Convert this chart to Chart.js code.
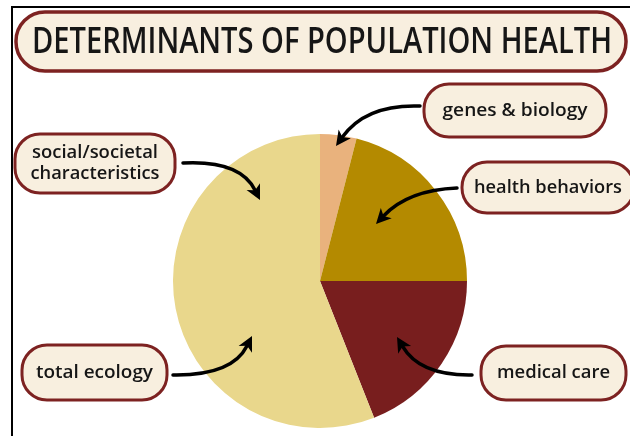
<!DOCTYPE html>
<html>
<head>
<meta charset="utf-8">
<script src="https://cdn.jsdelivr.net/npm/chart.js@4"></script>
<style>
  body { margin: 0; background: #fff; }
  canvas { display: block; }
</style>
</head>
<body>
<canvas id="pie" width="630" height="436"></canvas>
<script>
// pie slices, clockwise from 12 o'clock
const sliceLabels = ['genes & biology', 'health behaviors', 'medical care', 'social/societal characteristics, total ecology'];
const sliceValues = [4, 21, 19, 56];
const chartTitle = 'DETERMINANTS OF POPULATION HEALTH';
const calloutTexts = [['genes & biology'], ['health behaviors'], ['medical care'], ['social/societal', 'characteristics'], ['total ecology']];

const BOX_FILL = '#f8efdf';
const BOX_EDGE = '#7d2221';
const INK = '#161616';

// boxes: x, y, w, h ; text widths used to squeeze the font like the original
const boxes = [
    { x: 424, y: 84, w: 182, h: 53, tw: [145] },
    { x: 462, y: 162, w: 172, h: 51, tw: [148] },
    { x: 481, y: 346, w: 145, h: 54, tw: [113] },
    { x: 15, y: 134, w: 160, h: 59, tw: [126, 129] },
    { x: 22, y: 345, w: 145, h: 55, tw: [117] }
];
// arrows: start, control, tip
const arrows = [
    [420, 106, 366, 104, 336, 146],
    [457, 188, 408, 190, 376, 224],
    [472, 375, 420, 376, 397, 337],
    [183, 163, 240, 160, 260, 200],
    [173, 375, 232, 376, 252, 336]
];

function pill(ctx, x, y, w, h, r, lw) {
    ctx.beginPath();
    ctx.roundRect(x, y, w, h, r);
    ctx.fillStyle = BOX_FILL;
    ctx.fill();
    ctx.lineWidth = lw;
    ctx.strokeStyle = BOX_EDGE;
    ctx.stroke();
}

function squeezedText(ctx, text, cx, cy, font, width) {
    ctx.save();
    ctx.font = font;
    const m = ctx.measureText(text).width;
    ctx.translate(cx, cy);
    ctx.scale(width / m, 1);
    ctx.fillStyle = INK;
    ctx.textAlign = 'center';
    ctx.textBaseline = 'middle';
    ctx.fillText(text, 0, 0);
    ctx.restore();
}

function arrow(ctx, a) {
    const [sx, sy, cx, cy, tx, ty] = a;
    const ang = Math.atan2(ty - cy, tx - cx);
    const len = 15, half = 7.5;
    const bx = tx - Math.cos(ang) * len, by = ty - Math.sin(ang) * len;
    ctx.beginPath();
    ctx.moveTo(sx, sy);
    ctx.quadraticCurveTo(cx, cy, bx + Math.cos(ang) * 4, by + Math.sin(ang) * 4);
    ctx.lineWidth = 3.5;
    ctx.strokeStyle = '#000';
    ctx.lineCap = 'round';
    ctx.stroke();
    ctx.beginPath();
    ctx.moveTo(tx, ty);
    ctx.lineTo(bx + Math.sin(ang) * half, by - Math.cos(ang) * half);
    ctx.lineTo(bx + Math.cos(ang) * 4, by + Math.sin(ang) * 4);
    ctx.lineTo(bx - Math.sin(ang) * half, by + Math.cos(ang) * half);
    ctx.closePath();
    ctx.fillStyle = '#000';
    ctx.fill();
}

const decorations = {
    id: 'decorations',
    beforeDraw(chart) {
        const ctx = chart.ctx;
        ctx.save();
        // frame lines
        ctx.fillStyle = '#000';
        ctx.fillRect(11, 6, 619, 2);
        ctx.fillRect(11, 6, 2, 430);
        // title
        pill(ctx, 16, 12, 610, 59, 29, 3.5);
        squeezedText(ctx, chartTitle, 322, 43, '600 36px "Open Sans"', 580);
        // callout boxes
        boxes.forEach((b, i) => {
            pill(ctx, b.x, b.y, b.w, b.h, 25, 3);
            const lines = calloutTexts[i];
            lines.forEach((t, j) => {
                const cy = b.y + b.h / 2 + (j - (lines.length - 1) / 2) * 21;
                squeezedText(ctx, t, b.x + b.w / 2, cy, '600 18px "Open Sans"', b.tw[j]);
            });
        });
        ctx.restore();
    },
    afterDraw(chart) {
        const ctx = chart.ctx;
        ctx.save();
        arrows.forEach(a => arrow(ctx, a));
        ctx.restore();
    }
};

new Chart(document.getElementById('pie'), {
    type: 'pie',
    data: {
        labels: sliceLabels,
        datasets: [{
            data: sliceValues,
            backgroundColor: ['#e9b27d', '#b48a00', '#781e1e', '#e9d78c'],
            borderWidth: 0
        }]
    },
    options: {
        responsive: false,
        animation: false,
        layout: { padding: { left: 173, right: 163, top: 134, bottom: 8 } },
        plugins: {
            legend: { display: false },
            tooltip: { enabled: false }
        }
    },
    plugins: [decorations]
});
</script>
</body>
</html>
